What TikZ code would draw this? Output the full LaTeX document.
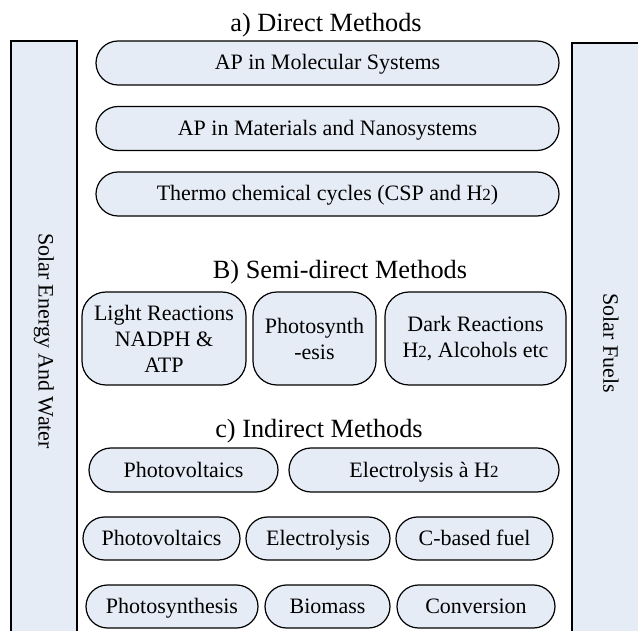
\documentclass[tikz,border=0pt]{standalone}
\usepackage{fontspec}
\setmainfont{Liberation Serif}
\usetikzlibrary{shapes.misc}
\definecolor{boxfill}{RGB}{230,236,246}
\newcommand{\Htwo}{H{\fontsize{17}{17}\selectfont 2}}
\begin{document}
\begin{tikzpicture}[x=1pt,y=-1pt,
  pill/.style={rounded rectangle, draw=black, fill=boxfill, line width=1.2pt,
    inner sep=0pt, text height=15pt, text depth=1pt, font=\fontsize{22}{26}\selectfont},
  semibox/.style={rectangle, rounded corners=24pt, draw=black, fill=boxfill, line width=1.2pt,
    inner sep=0pt, align=center, font=\fontsize{22}{26}\selectfont},
  sidebar/.style={rectangle, draw=black, fill=boxfill, line width=1.2pt, inner sep=0pt,
    font=\fontsize{22}{26}\selectfont},
  heading/.style={inner sep=0pt, anchor=base, font=\fontsize{26.3}{30}\selectfont}]
\useasboundingbox (0,0) rectangle (638,631);
\begin{scope}
\clip (0,0) rectangle (638,631);
\node[sidebar, minimum width=66pt, minimum height=600pt] (left) at (44,341)
  {\rotatebox{-90}{Solar Energy And Water}};
\node[sidebar, minimum width=78pt, minimum height=600pt] (right) at (611,343)
  {\rotatebox{-90}{Solar Fuels}};
\end{scope}

\node[heading] (ta) at (326,32) {a) Direct Methods};
\node[pill, minimum width=463pt, minimum height=44pt] (d1) at (327.5,63) {AP in Molecular Systems};
\node[pill, minimum width=463pt, minimum height=44pt] (d2) at (327.5,128.5) {AP in Materials and Nanosystems};
\node[pill, minimum width=463pt, minimum height=44pt] (d3) at (327.5,194) {Thermo chemical cycles (CSP and \Htwo)};

\node[heading] (tb) at (340,279) {B) Semi-direct Methods};
\node[semibox, minimum width=164pt, minimum height=93pt] (s1) at (164,338.5) {Light Reactions\\NADPH \&\\ATP};
\node[semibox, minimum width=123pt, minimum height=93pt] (s2) at (314.5,338.5) {Photosynth\\-esis};
\node[semibox, minimum width=181pt, minimum height=93pt] (s3) at (475.5,338.5) {Dark Reactions\\\Htwo, Alcohols etc};

\node[heading] (tc) at (319,438) {c) Indirect Methods};
\node[pill, minimum width=189pt, minimum height=44pt] (i1a) at (183.5,470) {Photovoltaics};
\node[pill, minimum width=270pt, minimum height=44pt] (i1b) at (424,470) {Electrolysis à \Htwo};

\node[pill, minimum width=157pt, minimum height=43pt] (i2a) at (161.5,538.5) {Photovoltaics};
\node[pill, minimum width=144pt, minimum height=43pt] (i2b) at (318,538.5) {Electrolysis};
\node[pill, minimum width=157pt, minimum height=43pt] (i2c) at (474.5,538.5) {C-based fuel};

\node[pill, minimum width=172pt, minimum height=43pt] (i3a) at (172,606.5) {Photosynthesis};
\node[pill, minimum width=125pt, minimum height=43pt] (i3b) at (327.5,606.5) {Biomass};
\node[pill, minimum width=158pt, minimum height=43pt] (i3c) at (476,606.5) {Conversion};
\end{tikzpicture}
\end{document}
